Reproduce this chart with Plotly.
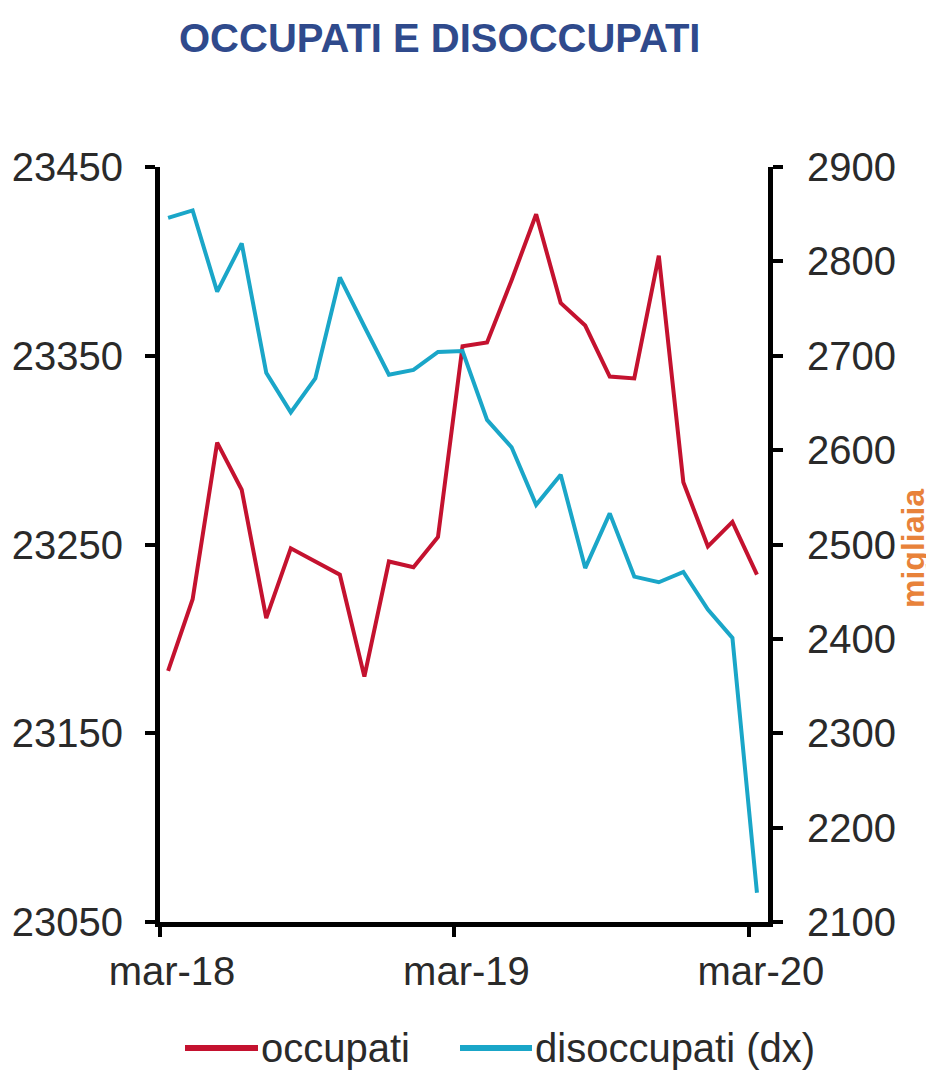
import plotly.graph_objects as go

months = list(range(25))  # mar-18 .. mar-20, monthly index
occupati = [23183, 23221, 23304, 23279, 23211, 23248, 23241, 23234, 23180, 23241,
            23238, 23254, 23355, 23357, 23390, 23425, 23378, 23366, 23339, 23338,
            23403, 23283, 23249, 23262, 23234]
disoccupati = [2846, 2854, 2768, 2819, 2682, 2640, 2676, 2783, 2731, 2680,
               2685, 2704, 2705, 2632, 2603, 2542, 2574, 2475, 2533, 2466,
               2460, 2471, 2431, 2401, 2131]
tick_pos = [-0.33, 11.67, 23.67]
tick_text = ["mar-18", "mar-19", "mar-20"]
left_ticks = [23050, 23150, 23250, 23350, 23450]
right_ticks = [2100, 2200, 2300, 2400, 2500, 2600, 2700, 2800, 2900]

RED = "#C4122F"
BLUE = "#1AA6C8"
FONT = "Liberation Sans, Arial, sans-serif"
TXT = "#2a2a2a"

# page has an 8px body margin: figure sized to fit the 934x1070 window
OFF = 8
W, H = 934 - OFF, 1070 - OFF
L, R, T, B = 152, 166, 159, 148
PX0, PX1 = L, W - R          # plot area in figure px
PY0, PY1 = T, H - B


def px(sx):  # screen x -> paper x
    return (sx - OFF - PX0) / (PX1 - PX0)


def py(sy):  # screen y -> paper y
    return (PY1 - (sy - OFF)) / (PY1 - PY0)


fig = go.Figure()
fig.add_trace(go.Scatter(x=months, y=occupati, name="occupati", mode="lines",
                         line=dict(color=RED, width=4), yaxis="y"))
fig.add_trace(go.Scatter(x=months, y=disoccupati, name="disoccupati (dx)", mode="lines",
                         line=dict(color=BLUE, width=4), yaxis="y2"))

axis_common = dict(showgrid=False, zeroline=False, showline=True, linecolor="black",
                   linewidth=5, ticks="outside", ticklen=10, tickwidth=4,
                   tickcolor="black", tickfont=dict(size=40, color=TXT))

fig.update_layout(
    width=W, height=H,
    margin=dict(l=L, r=R, t=T, b=B, autoexpand=False),
    paper_bgcolor="white", plot_bgcolor="white",
    font=dict(family=FONT, size=40, color=TXT),
    showlegend=False,
    xaxis=dict(range=[-0.33, 24.45], tickvals=tick_pos, ticktext=tick_text,
               ticklabelshift=12, ticklabelstandoff=0, **axis_common),
    yaxis=dict(range=[23050, 23450], tickvals=left_ticks, tickformat="d",
               ticklabelstandoff=14, **axis_common),
    yaxis2=dict(range=[2100, 2900], tickvals=right_ticks, tickformat="d",
                overlaying="y", side="right", ticklabelstandoff=16, **axis_common),
)

# title
fig.add_annotation(text="<b>OCCUPATI E DISOCCUPATI</b>", xref="paper", yref="paper",
                   x=px(439), y=py(38), xanchor="center", yanchor="middle",
                   showarrow=False, font=dict(family=FONT, size=40, color="#2F4A8C"))

# axis unit label on the right
fig.add_annotation(text="<b>migliaia</b>", xref="paper", yref="paper",
                   x=px(913), y=py(548), showarrow=False, textangle=-90,
                   xanchor="center", yanchor="middle", borderpad=0,
                   font=dict(family=FONT, size=32, color="#E8823A"))

# legend drawn below the plot
legend_items = [("occupati", RED, 185, 258), ("disoccupati (dx)", BLUE, 460, 532)]
ly = 1048
for name, col, x0, x1 in legend_items:
    fig.add_shape(type="line", xref="paper", yref="paper",
                  x0=px(x0), x1=px(x1), y0=py(ly), y1=py(ly),
                  line=dict(color=col, width=6))
    fig.add_annotation(text=name, xref="paper", yref="paper",
                       x=px(x1 + 1), y=py(ly), xanchor="left", yanchor="middle",
                       showarrow=False, font=dict(family=FONT, size=40, color=TXT))

fig.write_html("out.html")
